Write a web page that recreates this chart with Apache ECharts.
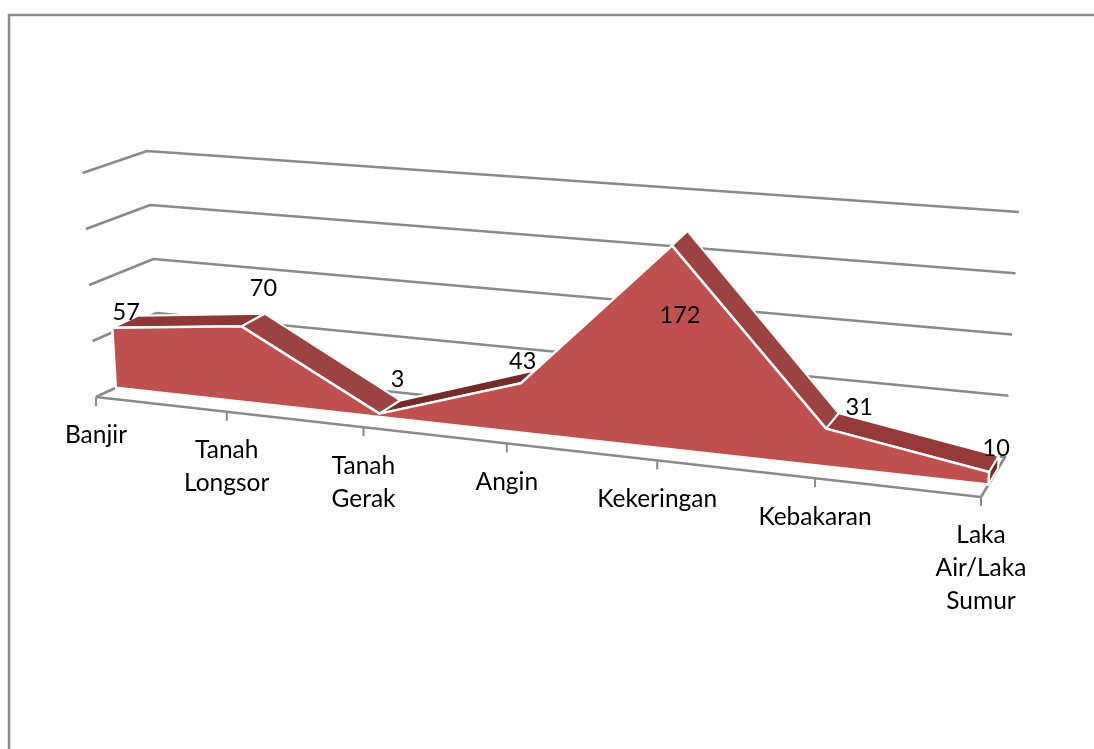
<!DOCTYPE html>
<html>
<head>
<meta charset="utf-8">
<style>
	html, body { margin: 0; padding: 0; background: #fff; }
	#chart { width: 1094px; height: 749px; }
</style>
</head>
<body>
<div id="chart"></div>
<script src="https://cdn.jsdelivr.net/npm/echarts@6/dist/echarts.min.js"></script>
<script>
// 数据
var categories = ['Banjir', 'Tanah\nLongsor', 'Tanah\nGerak', 'Angin', 'Kekeringan', 'Kebakaran', 'Laka\nAir/Laka\nSumur'];
var areaValues = [57, 70, 3, 43, 172, 31, 10];
var gridLevels = [0, 50, 100, 150, 200];

// 数据标签相对顶点的偏移
var labelOffsets = [[14, -15], [22, -38], [18, -34], [2, -22], [8, 70], [33, -21], [7, -24]];
// 顶面每一段的颜色，上升太陡的那段被正面挡住，不画
var rimColors = ['#8f3735', '#9c4240', '#762b2a', null, '#9c4240', '#953a38'];

// 三维投影的参数
var floorFrontLeft = [96, 397], floorFrontRight = [981, 497];
var floorBackLeft = [160, 367], floorBackRight = [1005, 457];
var perspective = 1.154;
var tiltLeft = -0.06, tiltRight = 0.057;
var wallFrontScale = [224, 224], wallBackScale = [216, 245], areaScale = [210, 252];
var areaFront = 0.31, areaBack = 0.71;

function lerp(a, b, k) {
	return a + (b - a) * k;
}

// 把隐藏直角坐标系里的点投影到透视的地面和墙面上
function project(cs, pt, depth, scale) {
	var t = (pt[0] - cs.x) / cs.width;
	var n = (cs.y + cs.height - pt[1]) / cs.height;
	var s = t / (perspective * (1 - t) + t);
	var fx = lerp(floorFrontLeft[0], floorFrontRight[0], s);
	var fy = lerp(floorFrontLeft[1], floorFrontRight[1], s);
	var bx = lerp(floorBackLeft[0], floorBackRight[0], s);
	var by = lerp(floorBackLeft[1], floorBackRight[1], s);
	var h = lerp(scale[0], scale[1], s) * n;
	return [lerp(fx, bx, depth) + lerp(tiltLeft, tiltRight, s) * h, lerp(fy, by, depth) - h];
}

function rows(list) {
	return list.map(function (v, i) { return [i, v]; });
}

var last = categories.length - 1;
var lineColor = '#8a8a8a';
var fontName = 'Lato, Carlito, sans-serif';

var myChart = echarts.init(document.querySelector('#chart'));
var option = {
	backgroundColor: '#fff',
	animation: false,
	graphic: [{
		type: 'polyline',
		silent: true,
		shape: { points: [[9, 749], [9, 15], [1094, 15]] },
		style: { stroke: '#8c8c8c', lineWidth: 2.5, fill: 'none' }
	}],
	grid: { left: 100, top: 100, right: 100, bottom: 100 },
	xAxis: { type: 'category', data: categories, boundaryGap: false, show: false },
	yAxis: { type: 'value', min: 0, max: 200, interval: 50, show: false },
	series: [
		// 墙面网格线和地面
		{
			type: 'custom',
			data: gridLevels.map(function (v) { return [0, v]; }),
			renderItem: function (params, api) {
				var cs = params.coordSys;
				var v = api.value(1);
				var pts = [
					project(cs, api.coord([0, v]), 0, wallFrontScale),
					project(cs, api.coord([0, v]), 1, wallBackScale),
					project(cs, api.coord([last, v]), 1, wallBackScale)
				];
				if (v === 0) {
					pts.push(project(cs, api.coord([last, 0]), 0, wallFrontScale));
					pts.push(pts[0]);
				}
				return {
					type: 'polyline',
					shape: { points: pts },
					style: { stroke: lineColor, lineWidth: 2.6, fill: 'none', lineJoin: 'round' }
				};
			}
		},
		// 刻度和类目文字
		{
			type: 'custom',
			data: rows(areaValues),
			renderItem: function (params, api) {
				var i = params.dataIndex;
				var p = project(params.coordSys, api.coord([i, 0]), 0, wallFrontScale);
				return {
					type: 'group',
					children: [{
						type: 'line',
						shape: { x1: p[0], y1: p[1], x2: p[0], y2: p[1] + 9 },
						style: { stroke: lineColor, lineWidth: 2 }
					}, {
						type: 'text',
						style: {
							x: p[0],
							y: p[1] + 22,
							text: categories[i],
							fill: '#000',
							font: '24.5px ' + fontName,
							lineHeight: 33,
							align: 'center',
							verticalAlign: 'top'
						}
					}]
				};
			}
		},
		// 面积的顶面
		{
			type: 'custom',
			data: rows(areaValues),
			renderItem: function (params, api) {
				var i = params.dataIndex;
				var cs = params.coordSys;
				if (i === last || !rimColors[i]) {
					return null;
				}
				var a = api.coord([i, areaValues[i]]);
				var b = api.coord([i + 1, areaValues[i + 1]]);
				return {
					type: 'polygon',
					shape: {
						points: [
							project(cs, a, areaFront, areaScale),
							project(cs, a, areaBack, areaScale),
							project(cs, b, areaBack, areaScale),
							project(cs, b, areaFront, areaScale)
						]
					},
					style: { fill: rimColors[i], stroke: '#fff', lineWidth: 2, lineJoin: 'round' }
				};
			}
		},
		// 面积的正面和右端面
		{
			type: 'custom',
			data: [[0, 0]],
			renderItem: function (params, api) {
				var cs = params.coordSys;
				var top = areaValues.map(function (v, i) {
					return project(cs, api.coord([i, v]), areaFront, areaScale);
				});
				var base0 = project(cs, api.coord([0, 0]), areaFront, areaScale);
				var base1 = project(cs, api.coord([last, 0]), areaFront, areaScale);
				var endTop = project(cs, api.coord([last, areaValues[last]]), areaBack, areaScale);
				var endBase = project(cs, api.coord([last, 0]), areaBack, areaScale);
				return {
					type: 'group',
					children: [{
						type: 'polygon',
						shape: { points: [top[last], endTop, endBase, base1] },
						style: { fill: '#762b2a', stroke: '#fff', lineWidth: 2, lineJoin: 'round' }
					}, {
						type: 'polygon',
						shape: { points: top.concat([base1, base0]) },
						style: { fill: '#c0504d', stroke: '#fff', lineWidth: 2.5, lineJoin: 'round' }
					}]
				};
			}
		},
		// 数据标签
		{
			type: 'custom',
			data: rows(areaValues),
			renderItem: function (params, api) {
				var i = params.dataIndex;
				var p = project(params.coordSys, api.coord([i, api.value(1)]), areaFront, areaScale);
				return {
					type: 'text',
					style: {
						x: p[0] + labelOffsets[i][0],
						y: p[1] + labelOffsets[i][1],
						text: String(areaValues[i]),
						fill: '#000',
						font: '23.5px ' + fontName,
						align: 'center',
						verticalAlign: 'middle'
					}
				};
			}
		}
	]
};
myChart.setOption(option);
window.addEventListener('resize', function () {
	myChart.resize();
});
</script>
</body>
</html>
